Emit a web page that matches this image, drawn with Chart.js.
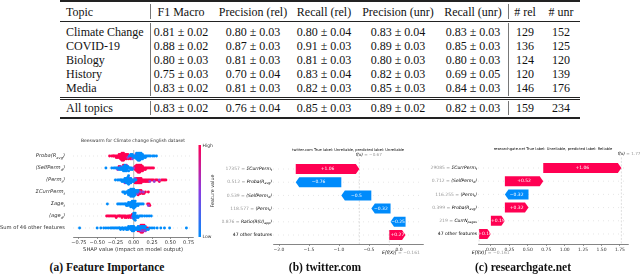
<!DOCTYPE html>
<html>
<head>
<meta charset="utf-8">
<script src="https://cdn.jsdelivr.net/npm/chart.js@4.4.1/dist/chart.umd.min.js"></script>
<style>
  body { margin: 0; width: 640px; height: 277px; background: #fff; position: relative; overflow: hidden; font-family: "Liberation Serif", serif; }
  canvas { position: absolute; }
  .t { position: absolute; font-size: 12px; line-height: 14px; white-space: nowrap; color: #111; }
  .rule { position: absolute; left: 60px; width: 520px; background: #222; }
  .vs { position: absolute; width: 1px; background: #777; }
  .cap { position: absolute; top: 267px; font: bold 11.5px "Liberation Serif", serif; white-space: nowrap; transform: translate(-50%, -50%); color: #111; }
</style>
</head>
<body>
<div id="table"></div>
<canvas id="cA" width="222" height="120" style="left:0;top:136px"></canvas>
<canvas id="cB" width="204" height="118" style="left:222px;top:144px"></canvas>
<canvas id="cC" width="214" height="118" style="left:426px;top:144px"></canvas>
<div class="cap" style="left:107px">(a) Feature Importance</div>
<div class="cap" style="left:325px">(b) twitter.com</div>
<div class="cap" style="left:523px">(c) researchgate.net</div>
<script>
// ---- table data ----
const headers = ["Topic", "F1 Macro", "Precision (rel)", "Recall (rel)", "Precision (unr)", "Recall (unr)", "# rel", "# unr"];
const topics = ["Climate Change", "COVID-19", "Biology", "History", "Media"];
const f1Macro = ["0.81 ± 0.02", "0.88 ± 0.02", "0.80 ± 0.03", "0.75 ± 0.03", "0.83 ± 0.02"];
const precRel = ["0.80 ± 0.03", "0.87 ± 0.03", "0.81 ± 0.03", "0.70 ± 0.04", "0.81 ± 0.03"];
const recRel = ["0.80 ± 0.04", "0.91 ± 0.03", "0.81 ± 0.03", "0.83 ± 0.04", "0.82 ± 0.03"];
const precUnr = ["0.83 ± 0.04", "0.89 ± 0.03", "0.80 ± 0.03", "0.82 ± 0.03", "0.85 ± 0.03"];
const recUnr = ["0.83 ± 0.03", "0.85 ± 0.03", "0.80 ± 0.03", "0.69 ± 0.05", "0.84 ± 0.03"];
const nRel = [129, 136, 124, 120, 146];
const nUnr = [152, 125, 120, 139, 176];
const allTopics = ["All topics", "0.83 ± 0.02", "0.76 ± 0.04", "0.85 ± 0.03", "0.89 ± 0.02", "0.82 ± 0.03", 159, 234];

// ---- beeswarm data (SHAP values per feature row, split by feature value) ----
const beeRows = ["Proba(R_{avg})", "⟨SelfPerm_{d}⟩", "⟨Perm_{t}⟩", "ΣCurrPerm_{t}", "Σage_{t}", "⟨age_{d}⟩", "Sum of 46 other features"];
const beeTicks = [-0.75, -0.5, -0.25, 0, 0.25, 0.5, 0.75];
const beeHi = [
  [-0.33,-0.3,-0.28,-0.27,-0.25,-0.24,-0.23,-0.22,-0.21,-0.2,-0.2,-0.19,-0.19,-0.18,-0.18,-0.17,-0.17,-0.17,-0.16,-0.16,-0.16,-0.15,-0.15,-0.15,-0.14,-0.14,-0.14,-0.13,-0.13,-0.12,-0.12,-0.11,-0.11,-0.1,-0.1,-0.09,-0.08,-0.07,-0.06,-0.05,-0.04,-0.03],
  [-0.2,-0.14,0.01,0.02,0.02,0.03,0.03,0.04,0.04,0.04,0.05,0.05,0.05,0.06,0.06,0.06,0.07,0.07,0.07,0.08,0.08,0.08,0.09,0.09,0.1,0.1,0.1,0.11,0.11,0.12,0.12,0.13,0.14,0.15,0.16,0.17,0.19,0.21,0.23,0.25,0.27],
  [0.01,0.02,0.03,0.04,0.04,0.05,0.05,0.06,0.06,0.07,0.07,0.08,0.08,0.09,0.09,0.1,0.1,0.11,0.12,0.13,0.14,0.15,0.16,0.17,0.18,0.19,0.2,0.21,0.23,0.25,0.27,0.3,0.32,0.35,0.38,0.4,0.42,0.44],
  [0.03,0.06,0.07,0.08,0.08,0.09,0.1,0.11,0.12,0.14,0.16,0.2],
  [0.19,0.21,0.22],
  [-0.37,-0.35,-0.33,-0.31,-0.29,-0.27,-0.25,-0.24,-0.22,-0.2,-0.19,-0.17,-0.16,-0.15,-0.13,-0.12,-0.11,-0.1,-0.08,-0.07,-0.06,-0.05,-0.04,-0.03,-0.02,-0.01],
  [0.06,0.08,0.09,0.1,0.1,0.11,0.12,0.12,0.13,0.14,0.15,0.17,0.19]
];
const beeMid = [
  [-0.08,-0.05,-0.02,0.03],
  [-0.22,-0.18,-0.1,0.0],
  [-0.12,-0.06,0.02,0.22,0.28,0.35],
  [0.05,0.09,0.13],
  [0.2],
  [-0.02,0.01],
  [0.08,0.1,0.12,0.14,0.16]
];
const beeLo = [
  [-0.06,-0.04,-0.03,-0.02,-0.01,0,0.01,0.02,0.03,0.03,0.04,0.04,0.05,0.05,0.05,0.06,0.06,0.06,0.07,0.07,0.07,0.08,0.08,0.08,0.09,0.09,0.1,0.1,0.1,0.11,0.11,0.12,0.12,0.13,0.14,0.15,0.16,0.17,0.19,0.21,0.23,0.26,0.28,0.31],
  [-0.38,-0.3,-0.27,-0.25,-0.23,-0.21,-0.2,-0.19,-0.18,-0.17,-0.16,-0.15,-0.15,-0.14,-0.14,-0.13,-0.13,-0.12,-0.12,-0.12,-0.11,-0.11,-0.1,-0.1,-0.09,-0.09,-0.08,-0.07,-0.06,-0.05,-0.04,-0.03,-0.02],
  [-0.25,-0.22,-0.2,-0.18,-0.17,-0.16,-0.15,-0.14,-0.13,-0.12,-0.12,-0.11,-0.11,-0.1,-0.1,-0.09,-0.09,-0.08,-0.08,-0.08,-0.07,-0.07,-0.06,-0.06,-0.05,-0.05,-0.04,-0.04,-0.03,-0.02,-0.01,0,0.01,0.03],
  [-0.15,-0.13,-0.12,-0.1,-0.09,-0.08,-0.07,-0.07,-0.06,-0.06,-0.05,-0.05,-0.05,-0.04,-0.04,-0.04,-0.03,-0.03,-0.03,-0.02,-0.02,-0.02,-0.01,-0.01,-0.01,0,0,0,0.01,0.01,0.02,0.02,0.03,0.04,0.05,0.06],
  [-0.36,-0.22,-0.2,-0.18,-0.16,-0.14,-0.12,-0.11,-0.1,-0.09,-0.08,-0.07,-0.06,-0.05,-0.05,-0.04,-0.04,-0.03,-0.03,-0.02,-0.02,-0.02,-0.01,-0.01,-0.01,0,0,0,0.01,0.01,0.01,0.02,0.02,0.03,0.04,0.05,0.06,0.07,0.09,0.11,0.13],
  [-0.01,0,0,0,0.01,0.01,0.01,0.02,0.02,0.03,0.04,0.05,0.06,0.08,0.1,0.12,0.15,0.18,0.21,0.24],
  [-0.74,-0.5,-0.45,-0.41,-0.38,-0.35,-0.32,-0.3,-0.28,-0.26,-0.24,-0.22,-0.2,-0.19,-0.18,-0.16,-0.15,-0.14,-0.12,-0.11,-0.1,-0.09,-0.08,-0.07,-0.06,-0.05,-0.04,-0.04,-0.03,-0.03,-0.02,-0.02,-0.01,-0.01,0,0,0.01,0.02,0.03,0.04,0.05,0.06,0.06,0.07,0.08,0.09,0.1,0.11,0.12,0.13,0.14,0.15,0.16,0.18,0.2,0.22,0.25,0.28,0.32,0.37,0.42,0.49,0.72]
];

// ---- waterfall: twitter.com ----
const twNames = ["ΣCurrPerm_{t}", "Proba(R_{avg})", "⟨SelfPerm_{d}⟩", "⟨Perm_{t}⟩", "Ratio(R(U)_{app})", "47 other features"];
const twFeatVals = ["17357", "0.512", "0.539", "118.577", "0.876", ""];
const twShap = [1.06, -0.76, -0.5, -0.32, -0.25, 0.27];
const twBase = -0.161;
const twFx = -0.67;
const twTicks = [-2, -1.5, -1, -0.5, 0];

// ---- waterfall: researchgate.net ----
const rgNames = ["ΣCurrPerm_{t}", "⟨SelfPerm_{d}⟩", "⟨Perm_{t}⟩", "Proba(R_{avg})", "CurrN_{pages}", "47 other features"];
const rgFeatVals = ["29085", "0.712", "116.255", "0.399", "219", ""];
const rgShap = [1.06, 0.52, -0.32, 0.32, 0.19, 0.16];
const rgBase = -0.161;
const rgFx = 1.771;
const rgTicks = [0, 0.25, 0.5, 0.75, 1, 1.25, 1.5, 1.75];

// ---------------- table ----------------
const tbl = document.getElementById('table');
const colX = [66, 181, 253, 324, 398, 473, 525, 561];
const rowY = [32, 45.5, 59.5, 73.5, 88];
function cell(text, col, y) {
  const d = document.createElement('div');
  d.className = 't';
  d.textContent = text;
  d.style.left = colX[col] + 'px';
  d.style.top = y + 'px';
  d.style.transform = col === 0 ? 'translateY(-50%)' : 'translate(-50%, -50%)';
  tbl.appendChild(d);
}
function box(cls, css) {
  const d = document.createElement('div');
  d.className = cls;
  Object.assign(d.style, css);
  tbl.appendChild(d);
}
headers.forEach((h, c) => cell(h, c, 12));
const cols = [topics, f1Macro, precRel, recRel, precUnr, recUnr, nRel, nUnr];
topics.forEach((_, r) => cols.forEach((col, c) => cell(String(col[r]), c, rowY[r])));
allTopics.forEach((v, c) => cell(String(v), c, 108));
box('rule', {top: '0px', height: '1.6px'});
box('rule', {top: '20.5px', height: '1px'});
box('rule', {top: '96.5px', height: '0.8px'});
box('rule', {top: '99px', height: '0.8px'});
box('rule', {top: '117px', height: '1.6px'});
[149.5, 508].forEach(x => {
  box('vs', {left: x + 'px', top: '4px', height: '15px'});
  box('vs', {left: x + 'px', top: '23px', height: '73px'});
  box('vs', {left: x + 'px', top: '101px', height: '14px'});
});

// ---------------- charts ----------------
Chart.defaults.font.family = '"DejaVu Sans", sans-serif';
Chart.defaults.color = '#333';
const RED = '#ff0052', BLUE = '#008bfb', MID = '#9b3ccf';
const FAM = '"DejaVu Sans", sans-serif';
const minus = s => s.replace(/-/g, '\u2212');
const fmtShap = v => (v < 0 ? '\u2212' : '+') + Math.abs(v).toFixed(2).replace(/0$/, '');

// text with _{sub} markup, right aligned at xr; returns width
function drawRich(ctx, str, xr, y, size, color) {
  const segs = [];
  const re = /_\{([^}]*)\}/g;
  let last = 0, m;
  while ((m = re.exec(str))) {
    if (m.index > last) segs.push({t: str.slice(last, m.index), sub: false});
    segs.push({t: m[1], sub: true});
    last = re.lastIndex;
  }
  if (last < str.length) segs.push({t: str.slice(last), sub: false});
  const style = str.includes('_{') ? 'italic ' : '';
  const font = s => style + (s.sub ? size * 0.7 : size) + 'px ' + FAM;
  let w = 0;
  segs.forEach(s => { ctx.font = font(s); s.w = ctx.measureText(s.t).width; w += s.w; });
  let x = xr - w;
  ctx.textAlign = 'left';
  ctx.textBaseline = 'middle';
  ctx.fillStyle = color;
  segs.forEach(s => { ctx.font = font(s); ctx.fillText(s.t, x, y + (s.sub ? size * 0.3 : 0)); x += s.w; });
  return w;
}

function line(ctx, x1, y1, x2, y2) {
  ctx.beginPath(); ctx.moveTo(x1, y1); ctx.lineTo(x2, y2); ctx.stroke();
}

// beeswarm vertical spreading (layout only)
function swarmRow(row, groups) {
  const pts = [];
  groups.forEach((vals, g) => vals.forEach(v => pts.push({v, g})));
  pts.sort((a, b) => a.v - b.v || a.g - b.g);
  let lastBin = null, layer = 0, maxK = 1;
  for (const p of pts) {
    const bin = Math.round(p.v / 0.02);
    if (bin !== lastBin) layer = 0;
    p.k = Math.ceil(layer / 2) * (layer % 2 ? 1 : -1);
    maxK = Math.max(maxK, Math.abs(p.k));
    layer++; lastBin = bin;
  }
  const step = Math.min(0.12, 0.4 / maxK);
  return pts.map(p => ({x: p.v, y: row + p.k * step, g: p.g}));
}

const beeSets = [[], [], []];
beeRows.forEach((_, r) => swarmRow(r, [beeLo[r], beeMid[r], beeHi[r]]).forEach(p => beeSets[p.g].push({x: p.x, y: p.y})));

const beePlugin = {
  id: 'bee',
  beforeDatasetsDraw(chart) {
    const {ctx, chartArea: a, scales: {x, y}} = chart;
    ctx.save();
    ctx.strokeStyle = '#ccc'; ctx.lineWidth = 0.5; ctx.setLineDash([1, 3]);
    beeRows.forEach((_, i) => { const py = y.getPixelForValue(i); line(ctx, a.left, py, a.right, py); });
    ctx.setLineDash([]); ctx.strokeStyle = '#999'; ctx.lineWidth = 0.7;
    const x0 = x.getPixelForValue(0);
    line(ctx, x0, a.top, x0, a.bottom);
    ctx.restore();
  },
  afterDraw(chart) {
    const {ctx, chartArea: a, scales: {y}} = chart;
    ctx.save();
    beeRows.forEach((lab, i) => drawRich(ctx, lab, a.left - 8, y.getPixelForValue(i), 5.2, '#333'));
    ctx.font = '4.5px ' + FAM; ctx.textAlign = 'center'; ctx.textBaseline = 'middle'; ctx.fillStyle = '#333';
    ctx.fillText('Beeswarm for Climate change English dataset', (a.left + a.right) / 2, 5);
    // colour bar
    const top = 9, bottom = 101;
    const g = ctx.createLinearGradient(0, bottom, 0, top);
    g.addColorStop(0, BLUE); g.addColorStop(0.5, '#8a3be0'); g.addColorStop(1, RED);
    ctx.fillStyle = g; ctx.fillRect(198.5, top, 2.5, bottom - top);
    ctx.fillStyle = '#333'; ctx.textAlign = 'left';
    ctx.fillText('High', 202.5, top + 1);
    ctx.fillText('Low', 202.5, bottom);
    ctx.translate(213, 55); ctx.rotate(-Math.PI / 2); ctx.textAlign = 'center';
    ctx.font = '4.8px ' + FAM;
    ctx.fillText('Feature value', 0, 0);
    ctx.restore();
  }
};

new Chart(document.getElementById('cA'), {
  type: 'scatter',
  data: {datasets: [
    {data: beeSets[0], backgroundColor: BLUE},
    {data: beeSets[1], backgroundColor: MID},
    {data: beeSets[2], backgroundColor: RED}
  ]},
  options: {
    responsive: false, animation: false, devicePixelRatio: 1,
    layout: {padding: {left: 0, right: 29, top: 14, bottom: 0}},
    elements: {point: {radius: 1.45, hoverRadius: 1.45, borderWidth: 0}},
    plugins: {legend: {display: false}, tooltip: {enabled: false}},
    scales: {
      x: {
        type: 'linear', min: -0.83, max: 0.81,
        afterBuildTicks: s => { s.ticks = beeTicks.map(v => ({value: v})); },
        afterFit: s => { s.height = 19; },
        ticks: {font: {size: 5}, padding: 1, maxRotation: 0, autoSkip: false, callback: v => minus(v.toFixed(2))},
        grid: {drawOnChartArea: false, drawTicks: true, tickLength: 2, color: '#333', lineWidth: 0.5},
        border: {display: true, color: '#333', width: 0.6},
        title: {display: true, text: 'SHAP value (impact on model output)', font: {size: 5.3}, color: '#333', padding: {top: 0, bottom: 3.5}}
      },
      y: {
        type: 'linear', min: -0.5, max: 6.75, reverse: true,
        afterBuildTicks: s => { s.ticks = beeRows.map((_, i) => ({value: i})); },
        afterFit: s => { s.width = 73; },
        ticks: {display: false}, grid: {display: false}, border: {display: false}
      }
    }
  },
  plugins: [beePlugin]
});

// waterfall charts
function waterfall(id, sp) {
  const n = sp.shap.length;
  const bars = new Array(n);
  let cur = sp.base;
  for (let i = n - 1; i >= 0; i--) { bars[i] = [cur, cur + sp.shap[i]]; cur += sp.shap[i]; }
  const fxPos = cur;

  const plugin = {
    id: 'wf',
    beforeDatasetsDraw(chart) {
      const {ctx, chartArea: a, scales: {x, y}} = chart;
      ctx.save();
      ctx.lineWidth = 0.5; ctx.strokeStyle = '#ccc'; ctx.setLineDash([1, 4]);
      sp.shap.forEach((_, i) => { const py = y.getPixelForValue(i); line(ctx, a.left, py, a.right, py); });
      ctx.strokeStyle = '#bbb'; ctx.setLineDash([2, 1.5]);
      const fxp = x.getPixelForValue(fxPos);
      line(ctx, fxp, a.top - 4, fxp, a.bottom);
      const bp = x.getPixelForValue(sp.base);
      line(ctx, bp, y.getPixelForValue(n - 1) - 5, bp, a.bottom + 2);
      ctx.restore();
    },
    afterDatasetsDraw(chart) {
      const ctx = chart.ctx;
      ctx.save();
      chart.getDatasetMeta(0).data.forEach((el, i) => {
        const l = Math.min(el.x, el.base), r = Math.max(el.x, el.base);
        const h = el.height, cy = el.y, pos = sp.shap[i] > 0;
        const hl = Math.min(3.5, r - l);
        ctx.fillStyle = pos ? RED : BLUE;
        ctx.beginPath();
        if (pos) {
          ctx.moveTo(l, cy - h / 2); ctx.lineTo(r - hl, cy - h / 2); ctx.lineTo(r, cy);
          ctx.lineTo(r - hl, cy + h / 2); ctx.lineTo(l, cy + h / 2);
        } else {
          ctx.moveTo(r, cy - h / 2); ctx.lineTo(l + hl, cy - h / 2); ctx.lineTo(l, cy);
          ctx.lineTo(l + hl, cy + h / 2); ctx.lineTo(r, cy + h / 2);
        }
        ctx.closePath(); ctx.fill();
        ctx.fillStyle = '#fff'; ctx.font = '4.5px ' + FAM; ctx.textAlign = 'center'; ctx.textBaseline = 'middle';
        ctx.fillText(fmtShap(sp.shap[i]), (l + r) / 2, cy);
      });
      ctx.restore();
    },
    afterDraw(chart) {
      const {ctx, chartArea: a, scales: {x, y}} = chart;
      ctx.save();
      sp.names.forEach((name, i) => {
        const py = y.getPixelForValue(i);
        const w = drawRich(ctx, name, a.left - 1, py, 4.5, '#000');
        if (sp.featVals[i]) {
          ctx.font = '4.5px ' + FAM; ctx.fillStyle = '#999'; ctx.textAlign = 'right';
          ctx.fillText(sp.featVals[i] + ' = ', a.left - 1 - w, py);
        }
      });
      ctx.font = '3.7px ' + FAM; ctx.fillStyle = '#000'; ctx.textAlign = 'center'; ctx.textBaseline = 'middle';
      ctx.fillText(sp.title, (a.left + a.right) / 2, a.top - 12);
      // f(x) label
      const fxp = x.getPixelForValue(fxPos);
      ctx.font = 'italic 4.2px ' + FAM; ctx.fillStyle = '#000'; ctx.textAlign = 'center';
      ctx.fillText('f(x)', fxp, a.top - 7);
      let hw = ctx.measureText('f(x)').width / 2;
      ctx.font = '4.2px ' + FAM; ctx.fillStyle = '#999'; ctx.textAlign = 'left';
      ctx.fillText(' = ' + minus(String(sp.fx)), fxp + hw, a.top - 7);
      // E[f(X)] label
      const bp = x.getPixelForValue(sp.base);
      ctx.font = 'italic 4.5px ' + FAM; ctx.fillStyle = '#000'; ctx.textAlign = 'center';
      ctx.fillText('E[f(X)]', bp, a.bottom + 9);
      hw = ctx.measureText('E[f(X)]').width / 2;
      ctx.font = '4.5px ' + FAM; ctx.fillStyle = '#999'; ctx.textAlign = 'left';
      ctx.fillText(' = ' + minus(String(sp.base)), bp + hw, a.bottom + 9);
      ctx.restore();
    }
  };

  new Chart(document.getElementById(id), {
    type: 'bar',
    data: {datasets: [{
      data: bars.map((b, i) => ({y: i, x: b})),
      backgroundColor: 'rgba(0,0,0,0)', borderWidth: 0, barThickness: 10
    }]},
    options: {
      indexAxis: 'y',
      responsive: false, animation: false, devicePixelRatio: 1,
      layout: {padding: {left: 0, right: sp.padRight, top: sp.padTop, bottom: 0}},
      plugins: {legend: {display: false}, tooltip: {enabled: false}},
      scales: {
        x: {
          type: 'linear', min: sp.xmin, max: sp.xmax,
          afterBuildTicks: s => { s.ticks = sp.ticks.map(v => ({value: v})); },
          afterFit: s => { s.height = 18; },
          ticks: {font: {size: 4.5}, padding: 1, maxRotation: 0, autoSkip: false, callback: v => minus(v.toFixed(sp.dec))},
          grid: {drawOnChartArea: false, drawTicks: true, tickLength: 2, color: '#333', lineWidth: 0.5},
          border: {display: true, color: '#333', width: 0.6}
        },
        y: {
          type: 'linear', min: -0.5, max: sp.ymax, reverse: true, offset: false,
          afterBuildTicks: s => { s.ticks = sp.names.map((_, i) => ({value: i})); },
          afterFit: s => { s.width = sp.yWidth; },
          ticks: {display: false}, grid: {display: false}, border: {display: false}
        }
      }
    },
    plugins: [plugin]
  });
}

waterfall('cB', {
  names: twNames, featVals: twFeatVals, shap: twShap, base: twBase, fx: twFx, ticks: twTicks, dec: 1,
  title: 'twitter.com True label: Unreliable, predicted label: Unreliable',
  xmin: -2.1, xmax: 0.4, padRight: 3, padTop: 18.4, yWidth: 51, ymax: 5.68
});
waterfall('cC', {
  names: rgNames, featVals: rgFeatVals, shap: rgShap, base: rgBase, fx: rgFx, ticks: rgTicks, dec: 2,
  title: 'researchgate.net True label: Unreliable, predicted label: Reliable',
  xmin: -0.176, xmax: 1.859, padRight: 12, padTop: 17.4, yWidth: 52, ymax: 5.76
});
</script>
</body>
</html>
